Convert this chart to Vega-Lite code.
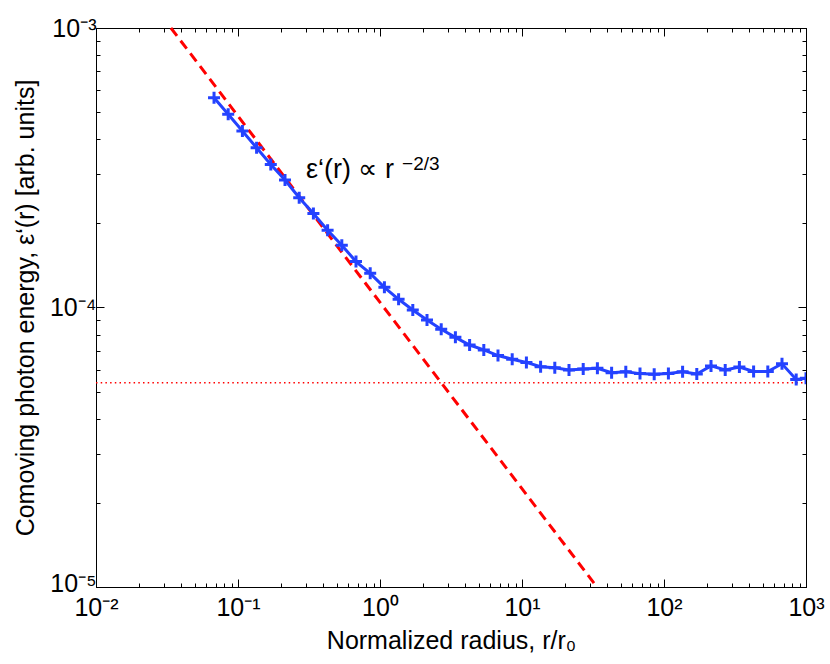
{
  "$schema": "https://vega.github.io/schema/vega-lite/v6.json",
  "width": 710,
  "height": 559,
  "autosize": {"type": "none"},
  "padding": {"left": 96, "top": 28, "right": 24, "bottom": 77},
  "background": "white",
  "config": {
    "view": {"stroke": "black", "strokeWidth": 1},
    "font": "Liberation Sans",
    "axis": {
      "grid": false,
      "domainColor": "black",
      "tickColor": "black",
      "labelColor": "black",
      "titleColor": "black",
      "labelFont": "Liberation Sans",
      "titleFont": "Liberation Sans",
      "labelFontSize": 25,
      "titleFontSize": 25,
      "titleFontWeight": "normal",
      "labelOverlap": false,
      "labelFlush": false
    }
  },
  "datasets": {
    "energy": [
      {"r": 0.0678, "e": 0.000563},
      {"r": 0.0853, "e": 0.000491},
      {"r": 0.1074, "e": 0.000428},
      {"r": 0.1352, "e": 0.000373},
      {"r": 0.1702, "e": 0.000325},
      {"r": 0.2143, "e": 0.000286},
      {"r": 0.2698, "e": 0.000247},
      {"r": 0.3396, "e": 0.000217},
      {"r": 0.4276, "e": 0.000189},
      {"r": 0.5383, "e": 0.000167},
      {"r": 0.6776, "e": 0.000146},
      {"r": 0.8531, "e": 0.0001325},
      {"r": 1.074, "e": 0.0001181},
      {"r": 1.352, "e": 0.000107},
      {"r": 1.702, "e": 0.000098},
      {"r": 2.143, "e": 0.0000902},
      {"r": 2.698, "e": 0.0000836},
      {"r": 3.396, "e": 0.0000782},
      {"r": 4.276, "e": 0.0000734},
      {"r": 5.383, "e": 0.0000705},
      {"r": 6.776, "e": 0.0000673},
      {"r": 8.531, "e": 0.0000653},
      {"r": 10.74, "e": 0.0000636},
      {"r": 13.52, "e": 0.0000614},
      {"r": 17.02, "e": 0.0000609},
      {"r": 21.43, "e": 0.0000598},
      {"r": 26.98, "e": 0.0000603},
      {"r": 33.96, "e": 0.0000606},
      {"r": 42.76, "e": 0.0000584},
      {"r": 53.83, "e": 0.0000589},
      {"r": 67.76, "e": 0.000058},
      {"r": 85.31, "e": 0.0000577},
      {"r": 107.4, "e": 0.0000581},
      {"r": 135.2, "e": 0.0000589},
      {"r": 170.2, "e": 0.0000578},
      {"r": 214.3, "e": 0.0000618},
      {"r": 269.8, "e": 0.0000598},
      {"r": 339.6, "e": 0.0000612},
      {"r": 427.6, "e": 0.000059},
      {"r": 538.3, "e": 0.000059},
      {"r": 677.6, "e": 0.0000629},
      {"r": 853.1, "e": 0.0000553},
      {"r": 1000, "e": 0.0000558}
    ],
    "powerlaw": [
      {"r": 0.0337, "e": 0.001},
      {"r": 33.7, "e": 0.00001}
    ],
    "floor": [
      {"r": 0.01, "e": 0.0000538},
      {"r": 1000, "e": 0.0000538}
    ],
    "note": [
      {"r": 0.301, "e": 0.00031, "text": "ε‘(r) ∝ r", "size": 27},
      {"r": 1.43, "e": 0.000326, "text": "−2/3", "size": 19}
    ]
  },
  "resolve": {"axis": {"x": "independent", "y": "independent"}},
  "layer": [
    {
      "data": {"name": "powerlaw"},
      "mark": {"type": "line", "color": "#ff0000", "strokeWidth": 3, "strokeDash": [10, 6]},
      "encoding": {
        "x": {
          "field": "r", "type": "quantitative",
          "scale": {"type": "log", "domain": [0.01, 1000], "nice": false},
          "axis": {
            "orient": "bottom",
            "title": "Normalized radius, r/r₀",
            "titleY": 61,
            "titleBaseline": "alphabetic",
            "values": [0.01,0.02,0.03,0.04,0.05,0.06,0.07,0.08,0.09,0.1,0.2,0.3,0.4,0.5,0.6,0.7,0.8,0.9,1,2,3,4,5,6,7,8,9,10,20,30,40,50,60,70,80,90,100,200,300,400,500,600,700,800,900,1000],
            "labelExpr": "datum.value===0.01?'10⁻²':datum.value===0.1?'10⁻¹':datum.value===1?'10⁰':datum.value===10?'10¹':datum.value===100?'10²':datum.value===1000?'10³':''",
            "tickSize": {"condition": {"test": "indexof([0.01,0.1,1,10,100,1000], datum.value) >= 0", "value": -8}, "value": -4},
            "labelPadding": 16
          }
        },
        "y": {
          "field": "e", "type": "quantitative",
          "scale": {"type": "log", "domain": [0.00001, 0.001], "nice": false},
          "axis": {
            "orient": "left",
            "title": "Comoving photon energy, ε‘(r) [arb. units]",
            "titleX": -63,
            "titleY": 279.5,
            "titleAngle": -90,
            "titleAlign": "center",
            "titleBaseline": "alphabetic",
            "values": [0.00001,0.00002,0.00003,0.00004,0.00005,0.00006,0.00007,0.00008,0.00009,0.0001,0.0002,0.0003,0.0004,0.0005,0.0006,0.0007,0.0008,0.0009,0.001],
            "labelExpr": "datum.value===0.00001?'10⁻⁵':datum.value===0.0001?'10⁻⁴':datum.value===0.001?'10⁻³':''",
            "labelOffset": {"condition": {"test": "datum.value === 0.00001", "value": -4}, "value": 0},
            "tickSize": {"condition": {"test": "indexof([0.00001,0.0001,0.001], datum.value) >= 0", "value": -8}, "value": -4},
            "labelPadding": 8
          }
        }
      }
    },
    {
      "data": {"name": "floor"},
      "mark": {"type": "line", "color": "#ff0000", "strokeWidth": 1.5, "strokeDash": [1.5, 3.2]},
      "encoding": {
        "x": {
          "field": "r", "type": "quantitative",
          "scale": {"type": "log", "domain": [0.01, 1000], "nice": false},
          "axis": {
            "orient": "top",
            "title": null,
            "labels": false,
            "values": [0.01,0.02,0.03,0.04,0.05,0.06,0.07,0.08,0.09,0.1,0.2,0.3,0.4,0.5,0.6,0.7,0.8,0.9,1,2,3,4,5,6,7,8,9,10,20,30,40,50,60,70,80,90,100,200,300,400,500,600,700,800,900,1000],
            "tickSize": {"condition": {"test": "indexof([0.01,0.1,1,10,100,1000], datum.value) >= 0", "value": -8}, "value": -4}
          }
        },
        "y": {
          "field": "e", "type": "quantitative",
          "scale": {"type": "log", "domain": [0.00001, 0.001], "nice": false},
          "axis": {
            "orient": "right",
            "title": null,
            "labels": false,
            "values": [0.00001,0.00002,0.00003,0.00004,0.00005,0.00006,0.00007,0.00008,0.00009,0.0001,0.0002,0.0003,0.0004,0.0005,0.0006,0.0007,0.0008,0.0009,0.001],
            "tickSize": {"condition": {"test": "indexof([0.00001,0.0001,0.001], datum.value) >= 0", "value": -8}, "value": -4}
          }
        }
      }
    },
    {
      "data": {"name": "energy"},
      "mark": {"type": "line", "color": "#2442ff", "strokeWidth": 3, "clip": true},
      "encoding": {
        "x": {"field": "r", "type": "quantitative", "scale": {"type": "log", "domain": [0.01, 1000], "nice": false}, "axis": null},
        "y": {"field": "e", "type": "quantitative", "scale": {"type": "log", "domain": [0.00001, 0.001], "nice": false}, "axis": null}
      }
    },
    {
      "data": {"name": "energy"},
      "mark": {"type": "point", "shape": "M-1,0H1M0,-1V1", "size": 144, "filled": false, "color": "#2442ff", "strokeWidth": 3, "opacity": 1, "clip": true},
      "encoding": {
        "x": {"field": "r", "type": "quantitative", "scale": {"type": "log", "domain": [0.01, 1000], "nice": false}, "axis": null},
        "y": {"field": "e", "type": "quantitative", "scale": {"type": "log", "domain": [0.00001, 0.001], "nice": false}, "axis": null}
      }
    },
    {
      "data": {"name": "note"},
      "mark": {"type": "text", "align": "left", "baseline": "middle", "color": "black", "font": "Liberation Sans"},
      "encoding": {
        "x": {"field": "r", "type": "quantitative", "scale": {"type": "log", "domain": [0.01, 1000], "nice": false}, "axis": null},
        "y": {"field": "e", "type": "quantitative", "scale": {"type": "log", "domain": [0.00001, 0.001], "nice": false}, "axis": null},
        "text": {"field": "text"},
        "size": {"field": "size", "type": "quantitative", "scale": null}
      }
    }
  ]
}
